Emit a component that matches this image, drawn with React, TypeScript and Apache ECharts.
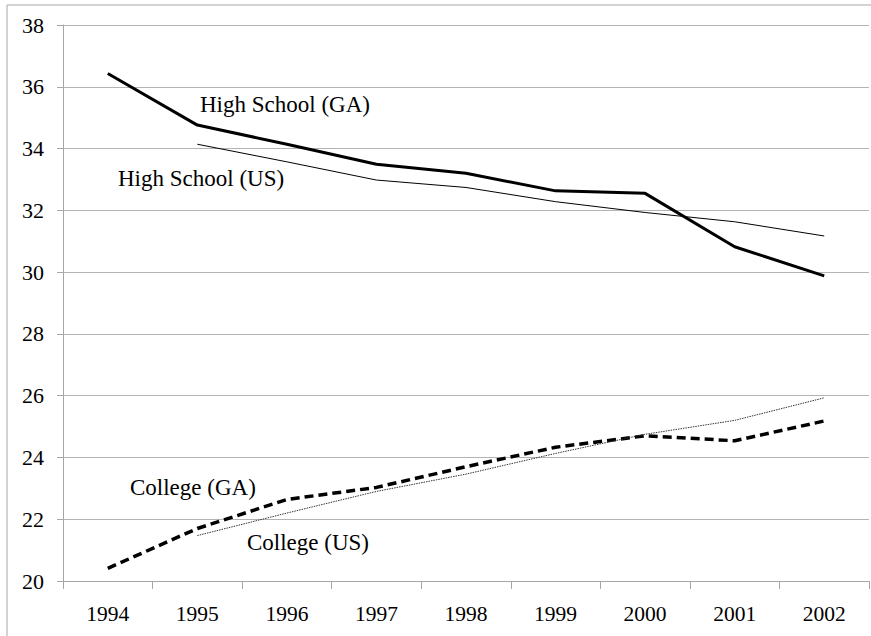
import React, { useEffect, useRef } from "react";
import * as echarts from "echarts";

const years = ["1994", "1995", "1996", "1997", "1998", "1999", "2000", "2001", "2002"];
const highSchoolGA = [36.43, 34.76, 34.14, 33.49, 33.2, 32.63, 32.55, 30.82, 29.88];
const highSchoolUS = [null, 34.14, 33.57, 32.98, 32.74, 32.28, 31.93, 31.63, 31.17];
const collegeGA = [20.41, 21.7, 22.64, 23.03, 23.7, 24.33, 24.7, 24.54, 25.18];
const collegeUS = [null, 21.47, 22.2, 22.9, 23.46, 24.13, 24.75, 25.2, 25.93];
const seriesNames = ["High School (GA)", "High School (US)", "College (GA)", "College (US)"];

const FONT = "Times New Roman, Liberation Serif, serif";

export default function App() {
  const ref = useRef<HTMLDivElement>(null);
  useEffect(() => {
    if (!ref.current) return;
    const chart = echarts.init(ref.current, null, { renderer: "svg" });
    const labelStyle = (text: string) => ({
      text,
      fontFamily: FONT,
      fontSize: 23,
      fill: "#000",
      textVerticalAlign: "middle",
    });
    chart.setOption({
      animation: false,
      backgroundColor: "#ffffff",
      textStyle: { fontFamily: FONT },
      grid: { left: 63, right: 2, top: 25, bottom: 55 },
      xAxis: {
        type: "category",
        data: years,
        boundaryGap: true,
        axisLine: { lineStyle: { color: "#a6a6a6", width: 1 } },
        axisTick: { show: true, length: 8, lineStyle: { color: "#a6a6a6" } },
        axisLabel: { color: "#000", fontFamily: FONT, fontSize: 21.5, margin: 22 },
      },
      yAxis: {
        type: "value",
        min: 20,
        max: 38,
        interval: 2,
        axisLine: { show: true, lineStyle: { color: "#a6a6a6", width: 1 } },
        axisTick: { show: true, length: 6, lineStyle: { color: "#a6a6a6" } },
        axisLabel: { color: "#000", fontFamily: FONT, fontSize: 22, margin: 19 },
        splitLine: { lineStyle: { color: "#b3b3b3", width: 1 } },
      },
      series: [
        {
          name: seriesNames[0],
          type: "line",
          data: highSchoolGA,
          symbol: "none",
          lineStyle: { color: "#000", width: 3 },
        },
        {
          name: seriesNames[1],
          type: "line",
          data: highSchoolUS,
          symbol: "none",
          lineStyle: { color: "#000", width: 1 },
        },
        {
          name: seriesNames[2],
          type: "line",
          data: collegeGA,
          symbol: "none",
          lineStyle: { color: "#000", width: 3.5, type: [9, 5] },
        },
        {
          name: seriesNames[3],
          type: "line",
          data: collegeUS,
          symbol: "none",
          lineStyle: { color: "#333", width: 1, type: [1.5, 1] },
        },
      ],
      graphic: [
        {
          type: "rect",
          shape: { x: 7, y: 5, width: 870, height: 640 },
          style: { fill: "none", stroke: "#a6a6a6", lineWidth: 1 },
          silent: true,
        },
        { type: "text", x: 200, y: 104, style: labelStyle(seriesNames[0]) },
        { type: "text", x: 118, y: 178, style: labelStyle(seriesNames[1]) },
        { type: "text", x: 130, y: 487, style: labelStyle(seriesNames[2]) },
        { type: "text", x: 247, y: 542, style: labelStyle(seriesNames[3]) },
      ],
    });
    return () => chart.dispose();
  }, []);
  return (
    <div
      ref={ref}
      style={{ position: "fixed", left: 0, top: 0, width: 871, height: 636 }}
    />
  );
}
